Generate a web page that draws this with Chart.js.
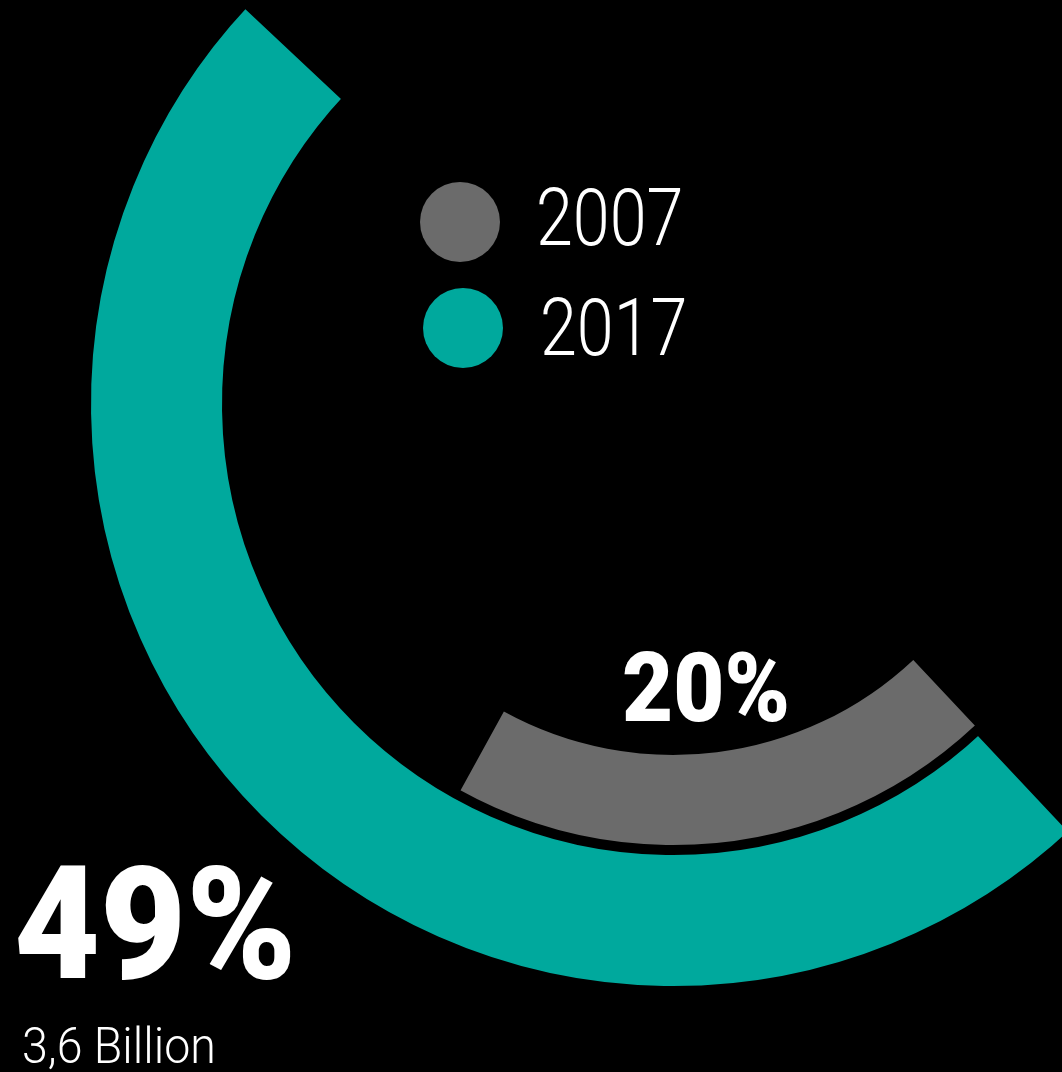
<!DOCTYPE html>
<html>
<head>
<meta charset="utf-8">
<script src="https://cdn.jsdelivr.net/npm/chart.js@4.4.1/dist/chart.umd.min.js"></script>
<style>
    html, body {
        margin: 0;
        padding: 0;
        background: #000;
        overflow: hidden;
    }
    .page {
        position: relative;
        width: 1062px;
        height: 1072px;
        overflow: hidden;
        background: #000;
        font-family: Roboto, "DejaVu Sans", sans-serif;
        color: #fff;
    }
    #shareChart {
        position: absolute;
        left: 0;
        top: -269px;
    }
    .txt {
        position: absolute;
        line-height: 1;
        white-space: nowrap;
        transform-origin: 0 0;
    }
    /* condensed look */
    .light { font-weight: 300; }
    .heavy { font-weight: 900; }
    .dot {
        position: absolute;
        width: 80px;
        height: 80px;
        border-radius: 50%;
    }
</style>
</head>
<body>
<div class="page">
    <canvas id="shareChart" width="1346" height="1346"></canvas>

    <div class="dot" id="dot2007" style="left:420px; top:182px;"></div>
    <div class="txt light" id="leg2007" style="left:536px; top:178px; font-size:80px; transform:scaleX(0.83);"></div>
    <div class="dot" id="dot2017" style="left:423px; top:288px;"></div>
    <div class="txt light" id="leg2017" style="left:540px; top:288px; font-size:80px; transform:scaleX(0.83);"></div>

    <div class="txt heavy" id="pct2007" style="left:622px; top:640px; font-size:96px; transform:scaleX(0.92);"></div>
    <div class="txt heavy" id="pct2017" style="left:14px; top:845px; font-size:158px; transform:scaleX(0.94);"></div>
    <div class="txt light" id="total2017" style="left:22px; top:1021px; font-size:50px; transform:scaleX(0.93);"></div>
</div>

<script>
// outer ring first, inner ring second
const years = ['2017', '2007'];
const shares = [49, 20];          // percent of total
const totals = ['3,6 Billion'];   // caption under the outer ring value
const ringColors = ['#00a99d', '#6b6b6b'];

// text
document.getElementById('leg2007').innerHTML = years[1];
document.getElementById('leg2017').innerHTML = years[0];
document.getElementById('dot2007').style.background = ringColors[1];
document.getElementById('dot2017').style.background = ringColors[0];
document.getElementById('pct2007').innerHTML = shares[1] + '%';
document.getElementById('pct2017').innerHTML = shares[0] + '%';
document.getElementById('total2017').innerHTML = totals[0];

const ctx = document.getElementById('shareChart').getContext('2d');

const shareChart = new Chart(ctx, {
    type: 'doughnut',
    data: {
        labels: ['share', 'rest'],
        datasets: [{
            label: years[0],
            data: [shares[0], 100 - shares[0]],
            backgroundColor: [ringColors[0], 'rgba(0,0,0,0)'],
            // black edge on the teal ring makes the gap to the grey one
            borderColor: '#000',
            borderWidth: [10, 0],
            weight: 141,
        }, {
            label: years[1],
            data: [shares[1], 100 - shares[1]],
            backgroundColor: [ringColors[1], 'rgba(0,0,0,0)'],
            borderWidth: 0,
            weight: 95,
        }],
    },
    options: {
        responsive: false,
        animation: false,
        rotation: 136.8,
        radius: 587,
        cutout: '59.8%',
        layout: { padding: 0 },
        plugins: {
            legend: { display: false },
            tooltip: { enabled: false },
        },
    },
});
</script>
</body>
</html>
